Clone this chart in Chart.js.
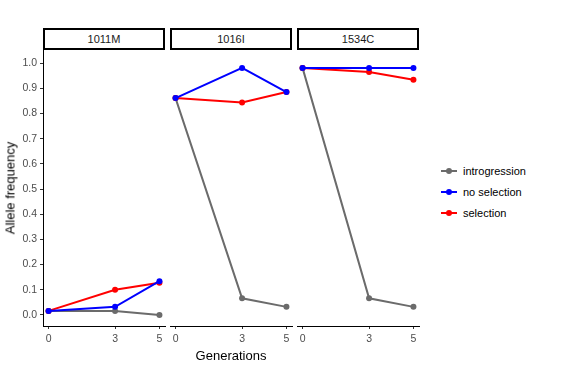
<!DOCTYPE html>
<html>
<head>
<meta charset="utf-8">
<script src="https://cdn.jsdelivr.net/npm/chart.js@4.4.1/dist/chart.umd.min.js"></script>
<style>
  body { margin: 0; background: #fff; font-family: "Liberation Sans", Arial, sans-serif; }
  #wrap { position: relative; width: 571px; height: 373px; overflow: hidden; }
  canvas { position: absolute; top: 0; }
  .strip { position: absolute; top: 28px; height: 22px; box-sizing: border-box; border: 2px solid #000;
           font-size: 11px; color: #1a1a1a; text-align: center; line-height: 18px; background: #fff; }
  .ytitle { position: absolute; left: 10px; top: 188px; transform: translate(-50%, -50%) rotate(-90deg);
            font-size: 13px; white-space: nowrap; color: #000; }
  .xtitle { position: absolute; left: 231px; top: 355px; transform: translate(-50%, -50%);
            font-size: 13px; color: #000; }
  .leg { position: absolute; left: 441px; font-size: 11px; color: #000; height: 14px; line-height: 14px; }
  .leg .key { position: absolute; left: 0; top: 6px; width: 16px; height: 2px; }
  .leg .dot { position: absolute; left: 5px; top: -2px; width: 6px; height: 6px; border-radius: 50%; }
  .leg .lab { position: absolute; left: 22px; top: 0; white-space: nowrap; }
</style>
</head>
<body>
<div id="wrap"></div>
<script>
// facets and axes
const panels = ['1011M', '1016I', '1534C'];
const generations = [0, 3, 5];
const xTicks = [0, 3, 5];
const yTicks = [0, 0.1, 0.2, 0.3, 0.4, 0.5, 0.6, 0.7, 0.8, 0.9, 1.0];

// allele frequency per panel, one row per facet
const introgression = [[0.016, 0.016, 0.0], [0.861, 0.066, 0.032], [0.981, 0.066, 0.032]];
const noSelection   = [[0.016, 0.032, 0.134], [0.861, 0.981, 0.885], [0.981, 0.981, 0.981]];
const selection     = [[0.016, 0.100, 0.128], [0.861, 0.844, 0.885], [0.981, 0.965, 0.934]];

const seriesNames = ['introgression', 'no selection', 'selection'];
const seriesColors = ['#6b6b6b', '#0000ff', '#ff0000'];

const wrap = document.getElementById('wrap');
const panelLeft = [43, 170, 297];
const panelWidth = 122;
const axisW = 44;

const font = { family: '"Liberation Sans", Arial, sans-serif', size: 10.5 };

const toPoints = row => generations.map((g, i) => ({ x: g, y: row[i] }));

panels.forEach((name, p) => {
  const cv = document.createElement('canvas');
  cv.width = axisW + panelWidth + 4;
  cv.height = 373;
  cv.style.left = (panelLeft[p] - axisW) + 'px';
  wrap.appendChild(cv);

  const strip = document.createElement('div');
  strip.className = 'strip';
  strip.style.left = panelLeft[p] + 'px';
  strip.style.width = panelWidth + 'px';
  strip.textContent = name;
  wrap.appendChild(strip);

  const mk = (label, row, color) => ({
    label: label,
    data: toPoints(row),
    borderColor: color,
    backgroundColor: color,
    borderWidth: 2,
    pointRadius: 3,
    pointBorderWidth: 0,
    tension: 0
  });

  const first = p === 0;
  new Chart(cv, {
    type: 'line',
    data: {
      // first dataset drawn on top
      datasets: [
        mk(seriesNames[1], noSelection[p], seriesColors[1]),
        mk(seriesNames[2], selection[p], seriesColors[2]),
        mk(seriesNames[0], introgression[p], seriesColors[0])
      ]
    },
    options: {
      responsive: false,
      animation: false,
      devicePixelRatio: 1,
      // hidden y axis still gets axisW from afterFit, so no left padding needed
      layout: { padding: { top: 50, right: 4, bottom: 0, left: 0 } },
      plugins: { legend: { display: false }, tooltip: { enabled: false } },
      scales: {
        x: {
          type: 'linear',
          min: -0.25,
          max: 5.25,
          afterBuildTicks: s => { s.ticks = xTicks.map(v => ({ value: v })); },
          afterFit: s => { s.height = 47; },
          grid: { display: true, drawOnChartArea: false, drawTicks: true, tickLength: 3, color: '#333' },
          border: { display: true, color: '#000', width: 1 },
          ticks: { font: font, color: '#4d4d4d', padding: 4, maxRotation: 0, callback: v => String(v) }
        },
        y: {
          display: first,
          min: -0.044,
          max: 1.052,
          afterBuildTicks: s => { s.ticks = yTicks.map(v => ({ value: v })); },
          afterFit: s => { s.width = axisW; },
          grid: { display: true, drawOnChartArea: false, drawTicks: true, tickLength: 3, color: '#333' },
          border: { display: true, color: '#000', width: 1 },
          ticks: { font: font, color: '#4d4d4d', padding: 3, callback: v => v.toFixed(1) }
        }
      }
    }
  });
});

// axis titles
const yt = document.createElement('div');
yt.className = 'ytitle';
yt.textContent = 'Allele frequency';
wrap.appendChild(yt);
const xt = document.createElement('div');
xt.className = 'xtitle';
xt.textContent = 'Generations';
wrap.appendChild(xt);

// legend
const legTop = [164, 185, 206];
seriesNames.forEach((n, i) => {
  const d = document.createElement('div');
  d.className = 'leg';
  d.style.top = legTop[i] + 'px';
  d.innerHTML = '<span class="key" style="background:' + seriesColors[i] + '"><span class="dot" style="background:' +
    seriesColors[i] + '"></span></span><span class="lab"></span>';
  d.querySelector('.lab').textContent = n;
  wrap.appendChild(d);
});
</script>
</body>
</html>
